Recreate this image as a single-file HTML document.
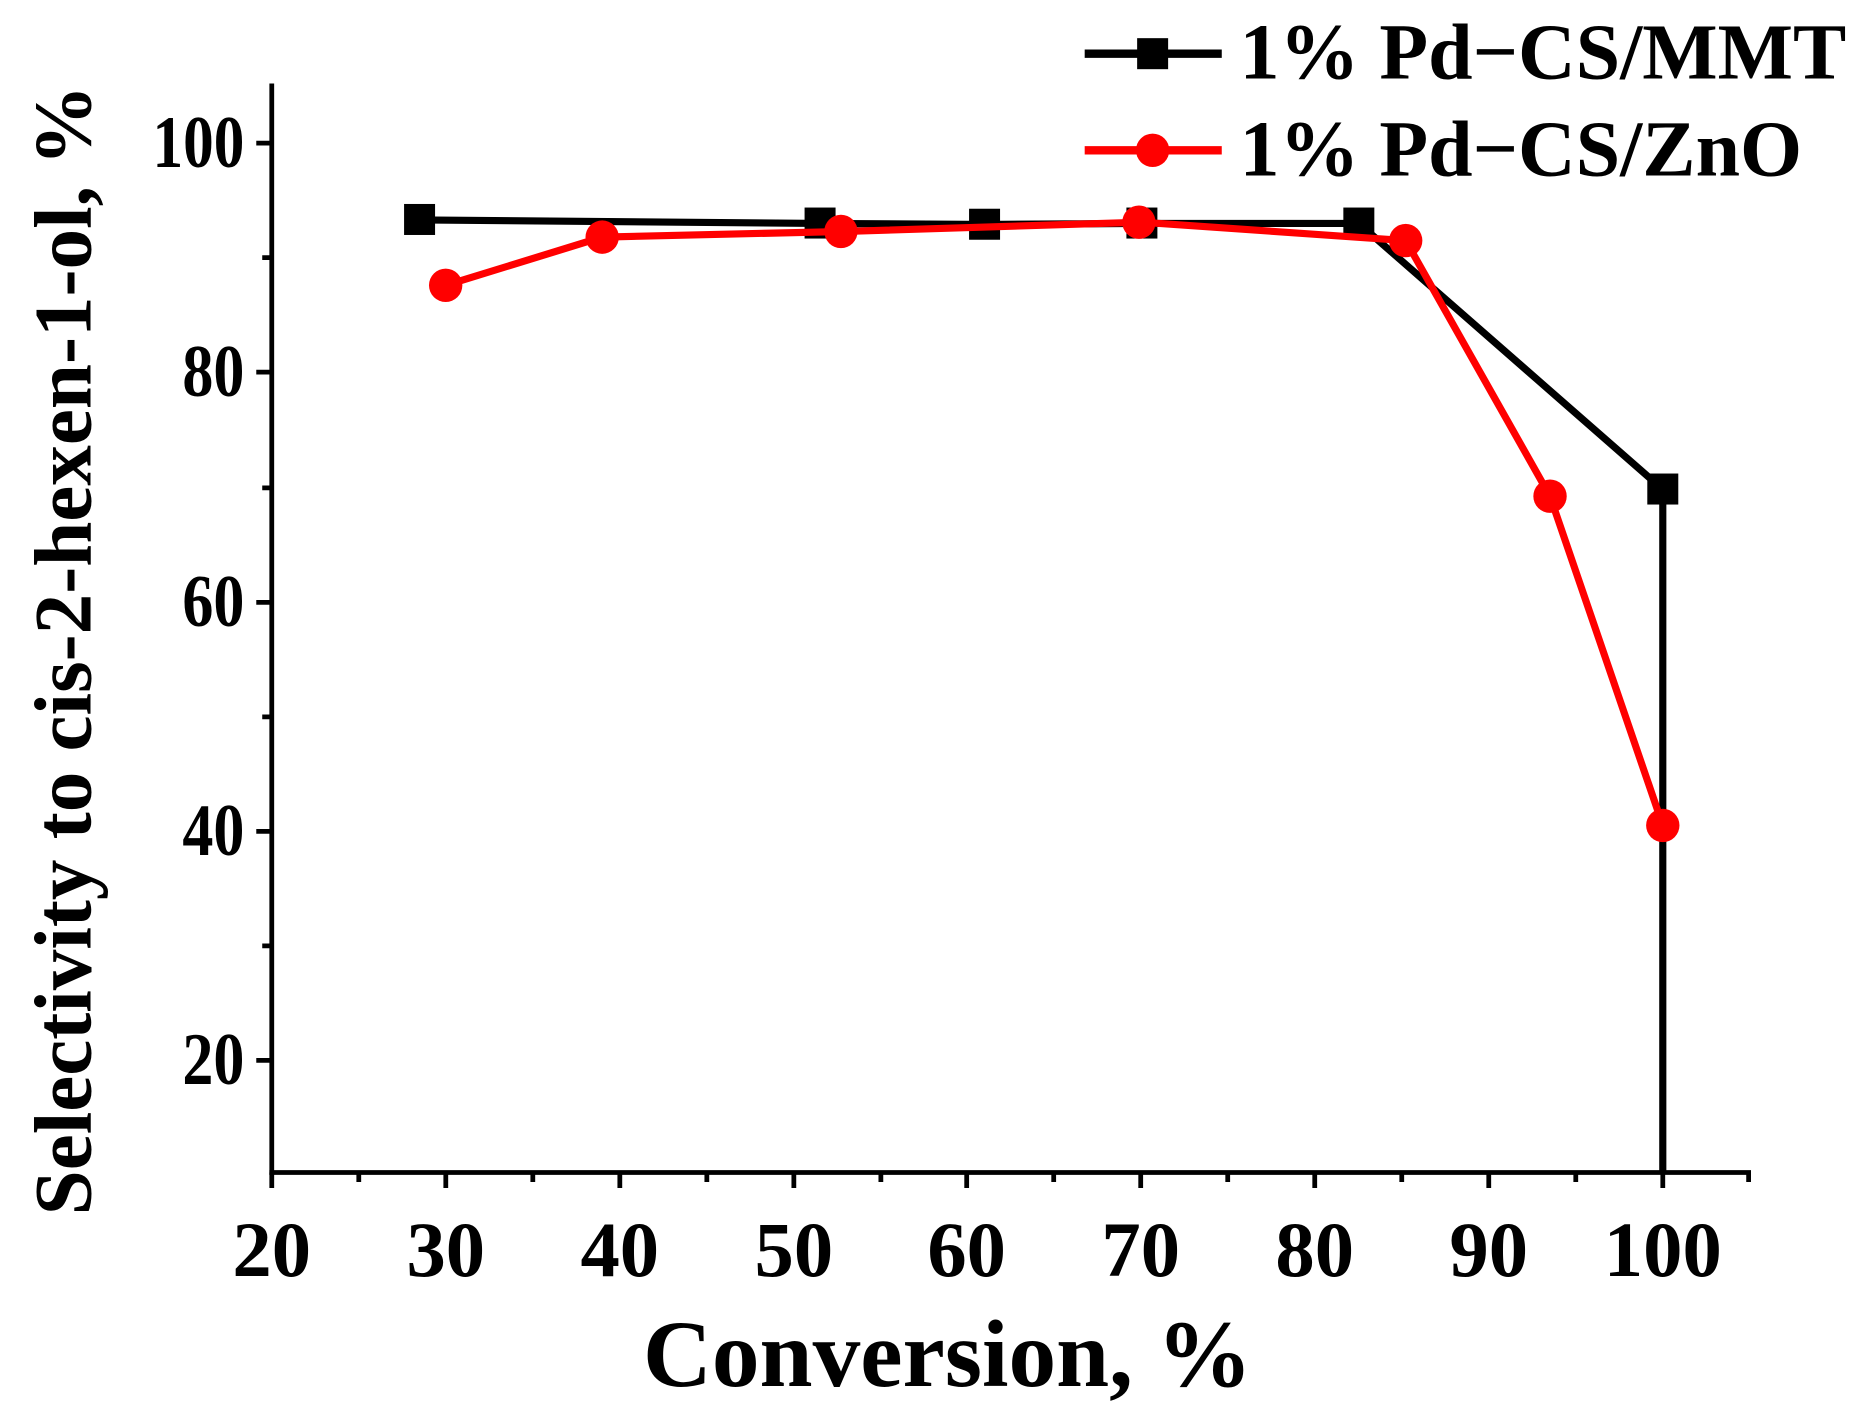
<!DOCTYPE html>
<html><head><style>html,body{margin:0;padding:0;background:#fff;}svg{display:block}</style></head>
<body>
<svg width="1869" height="1417" viewBox="0 0 1568 1188" preserveAspectRatio="none" xmlns="http://www.w3.org/2000/svg" font-family="Liberation Serif, serif" font-weight="bold">
<rect width="1568" height="1188" fill="#fff"/>
<g stroke="#000" stroke-width="4" fill="none">
<line x1="228" y1="70" x2="228" y2="985"/>
<line x1="226" y1="983" x2="1469" y2="983"/>
<path d="M228 983v13M374 983v13M520 983v13M666 983v13M811 983v13M957 983v13M1103 983v13M1249 983v13M1395 983v13M301 983v8M447 983v8M593 983v8M739 983v8M884 983v8M1030 983v8M1176 983v8M1322 983v8M1467 983v8"/>
<path d="M228 120h-13M228 312h-13M228 505h-13M228 697h-13M228 889h-13M228 216h-8M228 409h-8M228 601h-8M228 793h-8"/>
</g>
<g font-size="66" text-anchor="middle">
<text x="228" y="1070">20</text><text x="374" y="1070">30</text><text x="520" y="1070">40</text><text x="666" y="1070">50</text><text x="811" y="1070">60</text><text x="957" y="1070">70</text><text x="1103" y="1070">80</text><text x="1249" y="1070">90</text><text x="1395" y="1070">100</text>
</g>
<g font-size="62">
<text x="128" y="140" textLength="77" lengthAdjust="spacingAndGlyphs">100</text>
<text x="153" y="332" textLength="52" lengthAdjust="spacingAndGlyphs">80</text>
<text x="153" y="525" textLength="52" lengthAdjust="spacingAndGlyphs">60</text>
<text x="153" y="717" textLength="52" lengthAdjust="spacingAndGlyphs">40</text>
<text x="153" y="909" textLength="52" lengthAdjust="spacingAndGlyphs">20</text>
</g>
<text x="795" y="1162" font-size="80" text-anchor="middle">Conversion, %</text>
<text transform="translate(76,545) rotate(-90)" font-size="68" text-anchor="middle">Selectivity to cis-2-hexen-1-ol, %</text>
<polyline points="352,184.4 687.6,187.3 826,188.2 957.5,187.3 1140,187.3 1395,410.3 1395,983" fill="none" stroke="#000" stroke-width="6"/>
<g fill="#000">
<rect x="339" y="171" width="26" height="26"/><rect x="675" y="174" width="26" height="26"/><rect x="813" y="175" width="26" height="26"/><rect x="945" y="174" width="26" height="26"/><rect x="1127" y="174" width="26" height="26"/><rect x="1382" y="397" width="26" height="26"/>
</g>
<polyline points="373.9,239.2 505.2,198.8 709.5,194 957.5,186.3 1179.3,201.7 1300.4,416 1395,692" fill="none" stroke="#ff0000" stroke-width="6"/>
<g fill="#ff0000">
<circle cx="373.9" cy="239.2" r="14"/><circle cx="505.2" cy="198.8" r="14"/><circle cx="705.5" cy="194" r="14"/><circle cx="955.5" cy="186.3" r="14"/><circle cx="1179.3" cy="201.7" r="14"/><circle cx="1300.4" cy="416" r="14"/><circle cx="1395" cy="692" r="14"/>
</g>
<line x1="910" y1="45" x2="1025" y2="45" stroke="#000" stroke-width="7"/>
<rect x="954" y="32" width="26" height="26" fill="#000"/>
<text x="1040" y="66" font-size="67">1% Pd−CS/MMT</text>
<line x1="910" y1="126" x2="1025" y2="126" stroke="#ff0000" stroke-width="7"/>
<circle cx="967" cy="126" r="14" fill="#ff0000"/>
<text x="1040" y="147" font-size="67">1% Pd−CS/ZnO</text>
</svg>
</body></html>
